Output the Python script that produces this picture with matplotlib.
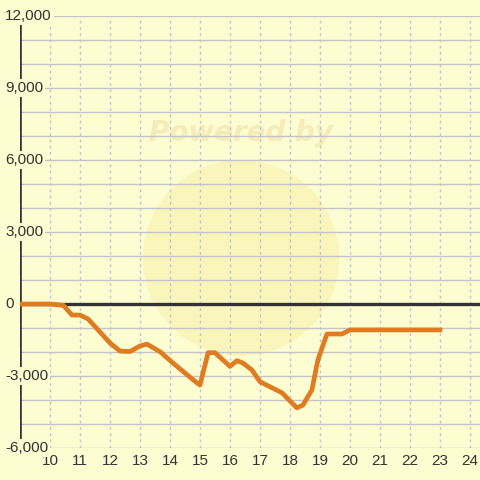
import matplotlib.pyplot as plt
from matplotlib.patches import Ellipse

# hours of the day vs running balance
hours = [9, 10, 10.45, 10.73, 11, 11.27, 12, 12.33, 12.67, 13, 13.23, 13.67,
         14.1, 14.9, 15, 15.27, 15.5, 16, 16.23, 16.43, 16.73, 17, 17.73,
         18.23, 18.43, 18.73, 18.93, 19.23, 19.73, 20, 23]
balance = [0, 0, -60, -460, -460, -625, -1625, -1960, -1980, -1750, -1670, -1990,
           -2460, -3290, -3375, -2030, -2030, -2600, -2360, -2460, -2750, -3240, -3700,
           -4330, -4210, -3580, -2330, -1250, -1250, -1080, -1080]

x_ticks = list(range(10, 25))
y_ticks = list(range(-6000, 12001, 3000))

bg = '#fdfdd2'
txt = '#333333'

fig = plt.figure(figsize=(4.8, 4.8), dpi=100, facecolor=bg)
ax = fig.add_axes([20 / 480, 32 / 480, 460 / 480, 432 / 480], facecolor=bg)
ax.set_xlim(9, 9 + 460 / 30)
ax.set_ylim(-6000, 12000)

# watermark
ax.add_patch(Ellipse((221 / 460, 190 / 432), 196 / 460, 196 / 432, transform=ax.transAxes,
                     facecolor='#f8eca0', alpha=0.45, edgecolor='none', zorder=0))
ax.text(221 / 460, 315 / 432, 'Powered by', transform=ax.transAxes, ha='center', va='center',
        fontsize=20, fontweight='bold', style='italic', color='#f6ecb8', zorder=0)

# grid
for v in range(-6000, 12001, 1000):
    ax.axhline(v, color='#c4c4c8', lw=1, zorder=1)
for h in x_ticks:
    ax.axvline(h, color='#c4c4c8', lw=1, ls=(0, (2, 2.5)), zorder=1)

ax.axhline(0, color=txt, lw=2.4, zorder=2)
ax.axvline(9, color=txt, lw=2.6, zorder=2)

ax.plot(hours, balance, color='#e07b22', lw=3.4, solid_joinstyle='round', zorder=3)

for s in ax.spines.values():
    s.set_visible(False)
ax.set_xticks([])
ax.set_yticks([])

for h in x_ticks:
    ax.annotate(str(h), xy=(h, -6000), xycoords='data', xytext=(0, -13),
                textcoords='offset pixels', ha='center', va='center',
                fontsize=11, color=txt, family='Liberation Sans', annotation_clip=False)
for v in y_ticks:
    ax.annotate(f'{v:,}', xy=(0, v), xycoords=('figure pixels', 'data'),
                xytext=(5, 0), textcoords='offset pixels', ha='left', va='center',
                fontsize=11, color=txt, family='Liberation Sans', zorder=5,
                bbox=dict(facecolor=bg, edgecolor='none', pad=1.5))

fig.savefig('out.png', dpi=100, facecolor=bg)
